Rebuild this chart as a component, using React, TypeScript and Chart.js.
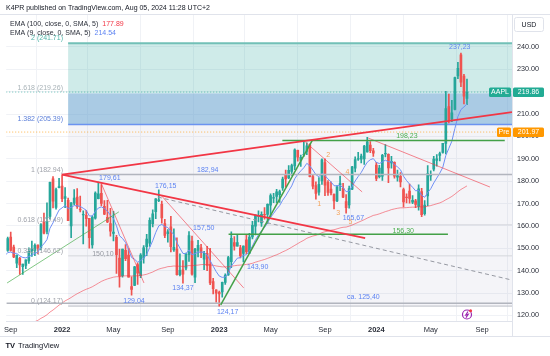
import React, { useEffect, useRef } from "react";
import { Chart, registerables } from "chart.js";

Chart.register(...registerables);

const FONT = "'Liberation Sans', Arial, sans-serif";

// Weekly AAPL candles, index 0 = week of 2021-08-16
const opens = [
  148.5, 148.3, 149.0, 155.0, 150.6, 143.4, 145.5, 141.8, 142.3, 144.4,
  148.7, 149.0, 151.4, 150.4, 161.7, 157.6, 164.3, 181.1, 168.3, 177.1,
  177.8, 172.3, 171.5, 160.0, 170.2, 172.9, 167.4, 165.0, 164.7, 163.4,
  151.5, 163.5, 172.2, 174.6, 168.8, 163.9, 161.1, 156.7, 154.9, 145.6,
  137.8, 149.1, 147.0, 132.9, 133.4, 142.7, 137.8, 145.7, 150.7, 152.3,
  161.0, 166.4, 171.5, 169.7, 161.1, 156.5, 159.6, 149.3, 149.7, 138.2,
  140.4, 141.1, 147.2, 153.2, 137.1, 149.0, 150.2, 145.1, 147.8, 142.7,
  135.1, 131.4, 130.3, 130.5, 134.8, 138.1, 144.0, 152.6, 151.0, 150.2,
  147.7, 153.8, 147.8, 155.1, 159.9, 164.3, 161.4, 165.1, 165.2, 169.3,
  172.5, 173.2, 174.0, 177.0, 182.6, 181.5, 184.4, 186.8, 193.8, 189.3,
  191.9, 193.3, 196.1, 182.1, 178.0, 175.1, 180.1, 188.3, 179.5, 176.5,
  174.2, 171.2, 178.2, 176.8, 170.9, 169.4, 176.4, 185.8, 189.9, 189.8,
  190.0, 193.1, 196.1, 193.6, 187.2, 182.0, 182.2, 192.3, 192.0, 188.2,
  188.4, 181.8, 182.2, 176.2, 172.9, 175.6, 170.6, 171.2, 168.7, 175.4,
  165.5, 173.4, 182.4, 185.4, 189.3, 191.5, 192.9, 196.9, 213.4, 207.7,
  212.1, 227.1, 236.5, 227.0, 217.0,
];
const highs = [
  151.7, 150.9, 155.0, 157.3, 151.4, 147.1, 146.0, 143.0, 144.9, 150.2,
  153.2, 152.0, 151.6, 161.0, 165.7, 170.3, 179.6, 182.1, 176.9, 181.3,
  182.94, 177.2, 172.5, 170.4, 176.2, 176.7, 173.3, 166.7, 167.0, 163.4,
  164.5, 175.3, 179.61, 178.5, 171.3, 171.5, 167.9, 166.5, 155.8, 149.7,
  149.7, 151.7, 149.9, 137.3, 141.9, 143.5, 147.6, 151.2, 156.3, 163.6,
  167.2, 172.2, 176.15, 171.1, 162.9, 158.4, 164.3, 158.7, 154.7, 147.5,
  144.5, 147.9, 157.5, 155.5, 150.0, 153.6, 151.8, 148.7, 150.9, 150.0,
  136.6, 131.4, 130.9, 134.9, 138.6, 146.4, 157.4, 155.2, 156.3, 151.3,
  151.1, 156.3, 156.7, 162.1, 165.0, 166.8, 166.3, 168.2, 169.9, 174.3,
  174.6, 176.4, 176.0, 181.8, 185.0, 187.0, 187.6, 194.5, 193.9, 191.7,
  198.23, 197.2, 196.7, 183.1, 179.7, 181.6, 190.0, 190.0, 180.3, 179.7,
  174.2, 178.0, 182.3, 179.1, 174.0, 177.8, 186.6, 190.9, 192.9, 192.1,
  196.0, 199.62, 197.7, 194.7, 188.4, 187.1, 192.0, 196.4, 192.2, 191.1,
  188.7, 185.0, 183.9, 176.9, 174.4, 178.7, 173.6, 171.9, 178.4, 176.8,
  171.3, 187.0, 184.6, 191.1, 191.9, 193.0, 196.9, 220.2, 219.0, 216.1,
  226.5, 233.1, 237.23, 227.8, 225.6,
];
const lows = [
  144.5, 147.2, 148.6, 148.7, 145.8, 141.3, 138.3, 138.3, 140.9, 143.2,
  146.4, 146.7, 147.5, 149.3, 156.4, 156.4, 163.0, 168.0, 167.5, 177.0,
  170.8, 168.2, 162.3, 154.7, 169.5, 167.8, 166.3, 152.0, 159.9, 150.1,
  150.1, 163.0, 172.1, 168.9, 165.0, 161.5, 155.4, 153.3, 138.8, 132.6,
  137.1, 144.5, 137.1, 129.04, 133.3, 133.8, 136.9, 143.3, 146.7, 150.8,
  159.6, 163.3, 170.9, 161.2, 154.7, 152.7, 148.4, 148.6, 138.0, 137.7,
  134.37, 140.3, 144.1, 138.0, 134.6, 146.2, 145.8, 140.4, 140.0, 133.7,
  129.6, 125.9, 124.17, 128.1, 133.8, 137.9, 141.3, 149.2, 150.9, 145.7,
  143.9, 147.6, 147.7, 154.2, 156.0, 161.8, 159.8, 163.0, 161.0, 164.3,
  170.4, 170.4, 170.5, 175.9, 177.3, 181.1, 182.6, 185.2, 189.0, 186.6,
  191.1, 191.9, 181.9, 176.6, 172.0, 173.7, 178.6, 173.5, 173.6, 173.9,
  167.6, 170.8, 175.8, 172.6, 165.67, 167.9, 176.2, 184.2, 189.3, 188.2,
  187.5, 193.0, 192.8, 191.1, 180.2, 181.5, 180.3, 190.9, 179.3, 185.8,
  181.4, 180.0, 177.4, 168.5, 170.3, 170.2, 169.9, 168.2, 167.1, 164.1,
  164.8, 169.1, 180.4, 184.6, 186.7, 189.1, 192.5, 192.2, 206.0, 206.6,
  211.9, 225.8, 222.3, 214.6, 214.2,
];
const closes = [
  148.2, 148.6, 154.3, 149.0, 146.1, 146.9, 142.6, 142.9, 144.8, 148.7,
  149.8, 151.3, 150.0, 160.6, 156.8, 161.8, 179.5, 171.1, 176.3, 177.6,
  172.2, 173.1, 162.4, 170.3, 172.4, 168.6, 167.3, 165.1, 163.2, 154.7,
  164.0, 174.7, 174.3, 170.1, 165.3, 161.8, 157.7, 157.3, 147.1, 137.6,
  149.6, 145.4, 137.1, 131.6, 141.7, 138.9, 147.0, 150.2, 154.1, 162.5,
  165.4, 172.1, 171.5, 163.6, 155.8, 157.4, 150.7, 150.4, 138.2, 140.1,
  138.4, 147.3, 155.7, 138.4, 149.7, 151.3, 148.1, 147.8, 142.2, 134.5,
  131.9, 129.9, 129.6, 134.8, 137.9, 145.9, 154.5, 151.0, 152.6, 146.7,
  151.0, 148.5, 155.0, 160.3, 164.9, 164.7, 165.2, 165.0, 169.7, 173.6,
  172.6, 175.2, 175.4, 181.0, 181.0, 184.9, 187.0, 194.0, 190.7, 190.7,
  191.9, 195.8, 182.0, 177.8, 174.5, 178.6, 189.5, 178.2, 175.0, 174.8,
  171.2, 177.5, 178.9, 172.9, 168.2, 176.7, 186.4, 189.7, 190.0, 191.2,
  195.7, 197.6, 193.6, 192.5, 181.2, 185.9, 191.6, 192.4, 185.9, 188.9,
  182.3, 182.5, 179.7, 170.7, 172.6, 172.3, 171.5, 169.6, 176.6, 165.0,
  169.3, 183.4, 183.1, 189.9, 190.0, 192.3, 196.9, 212.5, 207.5, 210.6,
  226.3, 230.5, 224.3, 218.0, 219.86,
];
// EMA (9) values
const ema9 = [
  146.0, 146.6, 148.1, 148.3, 147.8, 147.7, 146.6, 145.9, 145.7, 146.3,
  147.0, 147.8, 148.3, 150.7, 152.0, 153.9, 159.0, 161.4, 164.4, 167.1,
  168.1, 169.1, 167.8, 168.3, 169.1, 169.0, 168.7, 167.9, 167.0, 164.5,
  164.4, 166.5, 168.0, 168.5, 167.8, 166.6, 164.8, 163.3, 160.1, 155.6,
  154.4, 152.6, 149.5, 145.9, 145.1, 143.8, 144.5, 145.6, 147.3, 150.4,
  153.4, 157.1, 160.0, 160.7, 159.7, 159.3, 157.6, 156.1, 152.5, 150.1,
  147.7, 147.6, 149.3, 147.1, 147.6, 148.3, 148.3, 148.2, 147.0, 144.5,
  142.0, 139.6, 137.6, 137.0, 137.2, 138.9, 142.1, 143.8, 145.6, 145.8,
  146.8, 147.2, 148.7, 151.0, 153.8, 156.0, 157.8, 159.3, 161.4, 163.8,
  165.6, 167.5, 169.1, 171.5, 173.4, 175.7, 177.9, 181.1, 183.1, 184.6,
  186.0, 188.0, 186.8, 185.0, 182.9, 182.0, 183.5, 182.5, 181.0, 179.7,
  178.0, 177.9, 178.1, 177.1, 175.3, 175.6, 177.7, 180.1, 182.1, 183.9,
  186.3, 188.5, 189.6, 190.1, 188.4, 187.9, 188.6, 189.4, 188.7, 188.7,
  187.4, 186.4, 185.1, 182.2, 180.3, 178.7, 177.3, 175.7, 175.9, 173.7,
  172.8, 174.9, 176.6, 179.2, 181.4, 183.6, 186.2, 191.5, 194.7, 197.9,
  203.6, 208.9, 212.0, 213.2, 214.54,
];
// EMA (100) values
const ema100 = [
  109.7, 110.5, 111.3, 112.1, 112.7, 113.4, 114.0, 114.6, 115.2, 115.8,
  116.5, 117.2, 117.8, 118.7, 119.4, 120.3, 121.5, 122.4, 123.5, 124.6,
  125.5, 126.5, 127.2, 128.0, 128.9, 129.7, 130.4, 131.1, 131.7, 132.2,
  132.8, 133.6, 134.4, 135.2, 135.8, 136.3, 136.7, 137.1, 137.3, 137.3,
  137.6, 137.7, 137.7, 137.6, 137.7, 137.7, 137.9, 138.1, 138.4, 138.9,
  139.4, 140.1, 140.7, 141.1, 141.4, 141.8, 141.9, 142.1, 142.0, 142.0,
  141.9, 142.0, 142.3, 142.2, 142.4, 142.5, 142.7, 142.8, 142.7, 142.6,
  142.4, 142.1, 141.9, 141.7, 141.7, 141.7, 142.0, 142.2, 142.4, 142.5,
  142.6, 142.8, 143.0, 143.3, 143.8, 144.2, 144.6, 145.0, 145.5, 146.0,
  146.6, 147.1, 147.7, 148.4, 149.0, 149.7, 150.5, 151.3, 152.1, 152.9,
  153.6, 154.5, 155.0, 155.5, 155.8, 156.3, 157.0, 157.4, 157.7, 158.1,
  158.3, 158.7, 159.1, 159.4, 159.5, 159.9, 160.4, 161.0, 161.6, 162.2,
  162.8, 163.5, 164.1, 164.7, 165.0, 165.4, 165.9, 166.4, 166.8, 167.3,
  167.6, 167.9, 168.1, 168.1, 168.2, 168.3, 168.4, 168.4, 168.6, 168.5,
  168.5, 168.8, 169.1, 169.5, 169.9, 170.3, 170.9, 171.7, 172.4, 173.2,
  174.2, 175.3, 176.3, 177.1, 177.89,
];

const monthTickIndex = [3, 20, 37, 55, 72, 89, 107, 124, 142, 159];
const monthTickLabel = ["Sep", "2022", "May", "Sep", "2023", "May", "Sep", "2024", "May", "Sep"];
const priceTicks = [120, 130, 140, 150, 160, 170, 180, 190, 200, 210, 220, 230, 240];

// Fibonacci extension
const fibStartIndex = 22;
const fibLevelNames = ["2", "1.618", "1.382", "1", "0.618", "0.382", "0"];
const fibLevelPrices = [241.71, 219.26, 205.39, 182.94, 160.49, 146.62, 124.17];

const lastPrice = 219.86;
const prePrice = 201.97;

// drawings: [index1, price1, index2, price2]
const thickRedLines = [[20, 182.94, 168.9, 210.9], [20, 182.94, 120.3, 154.6]];
const thinRedLines = [[32.9, 179.2, 47.1, 134.5], [52.7, 173.8, 80.1, 132.3], [100.5, 197.5, 119.3, 175.2], [121.3, 199.3, 161.6, 177.4]];
const dashedGreyLines = [[51.7, 172.9, 168.9, 135.8]];
const thinGreenLines = [[1.8, 134.5, 38.8, 166.3]];
const greenLines = [[72.5, 124.7, 102.9, 198.5], [75.1, 156.3, 147.7, 156.3], [92.9, 198.23, 166.5, 198.23]];
const greyLines = [[20, 182.94, 168.9, 182.94], [1.6, 125.4, 168.9, 125.4]];

// price notes
const noteText = ["179,61", "176,15", "182,94", "157,50", "143,90", "134,37", "129,04", "124,17", "165,67", "237,23", "ca. 125,40"];
const noteIndex = [35.8, 54.3, 68.2, 66.9, 84.7, 60, 43.8, 74.8, 116.4, 151.6, 119.7];
const notePrice = [181.4, 177.9, 185.0, 159.1, 141.7, 132.3, 126.4, 121.7, 163.7, 240.0, 128.4];
const greenNoteText = ["198,23", "156,30"];
const greenNoteIndex = [134.1, 132.9];
const greenNotePrice = [200.0, 157.9];
const greyNoteText = ["150,10"];
const greyNoteIndex = [33.5];
const greyNotePrice = [147.5];
const waveText = ["2", "4", "1", "3", "5"];
const waveIndex = [108.1, 114.4, 105.1, 111.4, 115.4];
const wavePrice = [191.7, 184.1, 169.8, 165.8, 161.8];

const UP = "#26a69a";
const DOWN = "#ef5350";

function segs(list: number[][], color: string, width: number, dash: number[] = [], order = 1) {
  return list.map((s) => ({
    type: "line" as const,
    data: [{ x: s[0], y: s[1] }, { x: s[2], y: s[3] }],
    borderColor: color,
    borderWidth: width,
    borderDash: dash,
    pointRadius: 0,
    fill: false,
    tension: 0,
    order,
  }));
}

const overlay = {
  id: "overlay",
  beforeDatasetsDraw(chart: any) {
    const { ctx, chartArea: a, scales } = chart;
    const x = scales.x, y = scales.y;
    ctx.save();
    ctx.beginPath();
    ctx.rect(a.left, a.top, a.right - a.left, a.bottom - a.top);
    ctx.clip();
    const x0 = x.getPixelForValue(fibStartIndex);
    const py = (p: number) => y.getPixelForValue(p);
    const zone = (p1: number, p2: number, c: string) => {
      ctx.fillStyle = c;
      ctx.fillRect(x0, py(p1), a.right - x0, py(p2) - py(p1));
    };
    zone(fibLevelPrices[0], fibLevelPrices[1], "rgba(38,166,154,0.22)");
    zone(fibLevelPrices[1], fibLevelPrices[2], "rgba(100,160,205,0.55)");
    zone(fibLevelPrices[2], fibLevelPrices[6], "rgba(120,120,160,0.08)");
    const hline = (p: number, c: string, w: number, from = x0) => {
      ctx.strokeStyle = c;
      ctx.lineWidth = w;
      ctx.setLineDash([]);
      ctx.beginPath();
      ctx.moveTo(from, py(p));
      ctx.lineTo(a.right, py(p));
      ctx.stroke();
    };
    hline(fibLevelPrices[0], "#72c0b7", 2);
    hline(fibLevelPrices[2], "#6b93f0", 1.5);
    hline(fibLevelPrices[4], "#d4d6dc", 1);
    hline(fibLevelPrices[5], "#d4d6dc", 1);
    hline(fibLevelPrices[6], "#b9bcc4", 1);
    // price lines (dotted)
    const dotted = (p: number, c: string) => {
      ctx.strokeStyle = c;
      ctx.lineWidth = 1;
      ctx.setLineDash([1, 2]);
      ctx.beginPath();
      ctx.moveTo(a.left, py(p));
      ctx.lineTo(a.right, py(p));
      ctx.stroke();
    };
    dotted(lastPrice, "rgba(38,166,154,0.7)");
    dotted(prePrice, "rgba(255,152,0,0.7)");
    ctx.restore();
  },
  afterDatasetsDraw(chart: any) {
    const { ctx, chartArea: a, scales } = chart;
    const x = scales.x, y = scales.y;
    ctx.save();
    ctx.font = `7px ${FONT}`;
    ctx.textBaseline = "middle";
    ctx.textAlign = "center";
    const put = (t: string[], ix: number[], pr: number[], c: string) => {
      ctx.fillStyle = c;
      t.forEach((s, i) => ctx.fillText(s, x.getPixelForValue(ix[i]), y.getPixelForValue(pr[i])));
    };
    put(noteText, noteIndex, notePrice, "#5d83f2");
    put(greenNoteText, greenNoteIndex, greenNotePrice, "#4caf50");
    put(greyNoteText, greyNoteIndex, greyNotePrice, "#9598a1");
    put(waveText, waveIndex, wavePrice, "#f5a35a");
    // fib labels
    ctx.textAlign = "right";
    ctx.textBaseline = "bottom";
    const fx = x.getPixelForValue(20.3);
    const fibColors = ["#4fb3a8", "#a9b3b8", "#5b7fd9", "#a0a3ab", "#a0a3ab", "#a0a3ab", "#a0a3ab"];
    fibLevelNames.forEach((n, i) => {
      ctx.fillStyle = fibColors[i];
      ctx.fillText(`${n} (${fibLevelPrices[i].toFixed(2)})`, fx, y.getPixelForValue(fibLevelPrices[i]) - 1.5);
    });
    ctx.restore();
  },
  afterDraw(chart: any) {
    const { ctx, chartArea: a, scales } = chart;
    const y = scales.y;
    ctx.save();
    // frame lines
    ctx.strokeStyle = "#e0e3eb";
    ctx.lineWidth = 1;
    ctx.beginPath();
    ctx.moveTo(0, 14.5); ctx.lineTo(550, 14.5);
    ctx.moveTo(0, 336.5); ctx.lineTo(550, 336.5);
    ctx.moveTo(a.right + 0.5, 14); ctx.lineTo(a.right + 0.5, 336);
    ctx.stroke();

    ctx.textBaseline = "middle";
    ctx.textAlign = "left";
    ctx.font = `7px ${FONT}`;
    ctx.fillStyle = "#131722";
    ctx.fillText("K4PR published on TradingView.com, Aug 05, 2024 11:28 UTC+2", 6, 8.5);

    // legend
    const leg = (label: string, val: string, c: string, yy: number) => {
      ctx.fillStyle = "#2a2e39";
      ctx.fillText(label, 10, yy);
      const w = ctx.measureText(label).width;
      ctx.fillStyle = c;
      ctx.fillText(val, 10 + w + 4, yy);
    };
    leg("EMA (100, close, 0, SMA, 5)", "177.89", "#f23645", 24.5);
    leg("EMA (9, close, 0, SMA, 5)", "214.54", "#5d83f2", 33.5);

    // USD box
    const rr = (x0: number, y0: number, w: number, h: number, r: number) => {
      ctx.beginPath();
      ctx.moveTo(x0 + r, y0);
      ctx.lineTo(x0 + w - r, y0);
      ctx.quadraticCurveTo(x0 + w, y0, x0 + w, y0 + r);
      ctx.lineTo(x0 + w, y0 + h - r);
      ctx.quadraticCurveTo(x0 + w, y0 + h, x0 + w - r, y0 + h);
      ctx.lineTo(x0 + r, y0 + h);
      ctx.quadraticCurveTo(x0, y0 + h, x0, y0 + h - r);
      ctx.lineTo(x0, y0 + r);
      ctx.quadraticCurveTo(x0, y0, x0 + r, y0);
      ctx.closePath();
    };
    ctx.fillStyle = "#ffffff";
    ctx.strokeStyle = "#e0e3eb";
    rr(514.5, 17.5, 29, 14, 2);
    ctx.fill();
    ctx.stroke();
    ctx.fillStyle = "#131722";
    ctx.textAlign = "center";
    ctx.fillText("USD", 529, 24.8);

    // price labels on axis
    const tag = (name: string, val: number, c: string, nameX: number) => {
      const py = y.getPixelForValue(val);
      ctx.fillStyle = c;
      rr(nameX, py - 4.5, a.right - 1 - nameX, 9.5, 1.5);
      ctx.fill();
      rr(a.right + 1, py - 4.5, 31, 9.5, 1.5);
      ctx.fill();
      ctx.fillStyle = "#ffffff";
      ctx.textAlign = "center";
      ctx.fillText(name, (nameX + a.right - 1) / 2, py + 0.5);
      ctx.fillText(val.toFixed(2), a.right + 16.5, py + 0.5);
    };
    tag("AAPL", lastPrice, "#22ab94", 489);
    tag("Pre", prePrice, "#ff9800", 497);

    // event icon
    ctx.strokeStyle = "#9c27b0";
    ctx.lineWidth = 1.2;
    ctx.beginPath();
    ctx.arc(467, 314.5, 4.5, 0, Math.PI * 2);
    ctx.stroke();
    ctx.beginPath();
    ctx.moveTo(468, 311.5); ctx.lineTo(465.8, 315); ctx.lineTo(468.2, 314.3); ctx.lineTo(466, 317.7);
    ctx.stroke();
    ctx.fillStyle = "#f23645";
    ctx.beginPath();
    ctx.arc(470.6, 310.8, 1.5, 0, Math.PI * 2);
    ctx.fill();

    // footer logo
    ctx.textAlign = "left";
    ctx.fillStyle = "#131722";
    ctx.font = `bold 7.5px ${FONT}`;
    ctx.fillText("TV", 5.5, 345.5);
    ctx.font = `7.5px ${FONT}`;
    ctx.fillText("TradingView", 18, 345.5);
    ctx.restore();
  },
};

export default function App() {
  const ref = useRef<HTMLCanvasElement | null>(null);
  useEffect(() => {
    if (!ref.current) return;
    const idx = closes.map((_, i) => i);
    const colors = idx.map((i) => (closes[i] >= opens[i] ? UP : DOWN));
    const wicks = idx.map((i) => ({ x: i, y: [lows[i], highs[i]] }));
    const bodies = idx.map((i) => {
      let lo = Math.min(opens[i], closes[i]);
      let hi = Math.max(opens[i], closes[i]);
      if (hi - lo < 0.3) {
        const m = (hi + lo) / 2;
        lo = m - 0.15;
        hi = m + 0.15;
      }
      return { x: i, y: [lo, hi] };
    });
    const chart = new Chart(ref.current, {
      type: "bar",
      data: {
        datasets: [
          { type: "bar", data: wicks as any, backgroundColor: colors, barThickness: 1, grouped: false, order: 20, borderWidth: 0 } as any,
          { type: "bar", data: bodies as any, backgroundColor: colors, barThickness: 2, grouped: false, order: 19, borderWidth: 0 } as any,
          { type: "line", data: ema100.map((v, i) => ({ x: i, y: v })), borderColor: "rgba(242,54,69,0.55)", borderWidth: 1, pointRadius: 0, tension: 0, order: 10 },
          { type: "line", data: ema9.map((v, i) => ({ x: i, y: v })), borderColor: "#6f8ff5", borderWidth: 1, pointRadius: 0, tension: 0, order: 9 },
          ...segs(greyLines, "#b2b5be", 1.5, [], 8),
          ...segs(dashedGreyLines, "#9598a1", 1, [4, 3], 7),
          ...segs(thinRedLines, "rgba(242,54,69,0.6)", 1, [], 6),
          ...segs(thinGreenLines, "rgba(76,175,80,0.7)", 1, [], 5),
          ...segs(greenLines, "#43a047", 1.5, [], 4),
          ...segs(thickRedLines, "#f23645", 1.8, [], 3),
        ] as any,
      },
      options: {
        animation: false,
        responsive: false,
        devicePixelRatio: 1,
        events: [],
        layout: { padding: { top: 14, left: 5, right: 0, bottom: 0 } },
        plugins: { legend: { display: false }, tooltip: { enabled: false } },
        scales: {
          x: {
            type: "linear",
            min: 1.51,
            max: 168.9,
            offset: false,
            afterBuildTicks: (s: any) => {
              s.ticks = monthTickIndex.map((v) => ({ value: v }));
            },
            afterFit: (s: any) => {
              s.height = 35;
            },
            grid: { color: "#f0f2f6", drawTicks: false },
            border: { display: true, color: "#e0e3eb" },
            ticks: {
              autoSkip: false,
              maxRotation: 0,
              padding: 4,
              color: "#2a2e39",
              font: (c: any) => ({ family: FONT, size: 7.5, weight: /^\d{4}$/.test(monthTickLabel[c.index] || "") ? "bold" : "normal" }),
              callback: (_v: any, i: number) => monthTickLabel[i],
            },
          },
          y: {
            type: "linear",
            position: "right",
            min: 117.5,
            max: 254.75,
            afterBuildTicks: (s: any) => {
              s.ticks = priceTicks.map((v) => ({ value: v }));
            },
            afterFit: (s: any) => {
              s.width = 38;
            },
            grid: { color: "#f0f2f6", drawTicks: false },
            border: { display: false },
            ticks: {
              padding: 5,
              crossAlign: "near",
              color: "#2a2e39",
              font: { family: FONT, size: 7.2 },
              callback: (v: any) => Number(v).toFixed(2),
            },
          },
        },
      } as any,
      plugins: [overlay],
    });
    return () => chart.destroy();
  }, []);
  return (
    <div style={{ position: "absolute", left: 0, top: 0, width: 550, height: 356, background: "#fff" }}>
      <canvas ref={ref} width={550} height={356} />
    </div>
  );
}
